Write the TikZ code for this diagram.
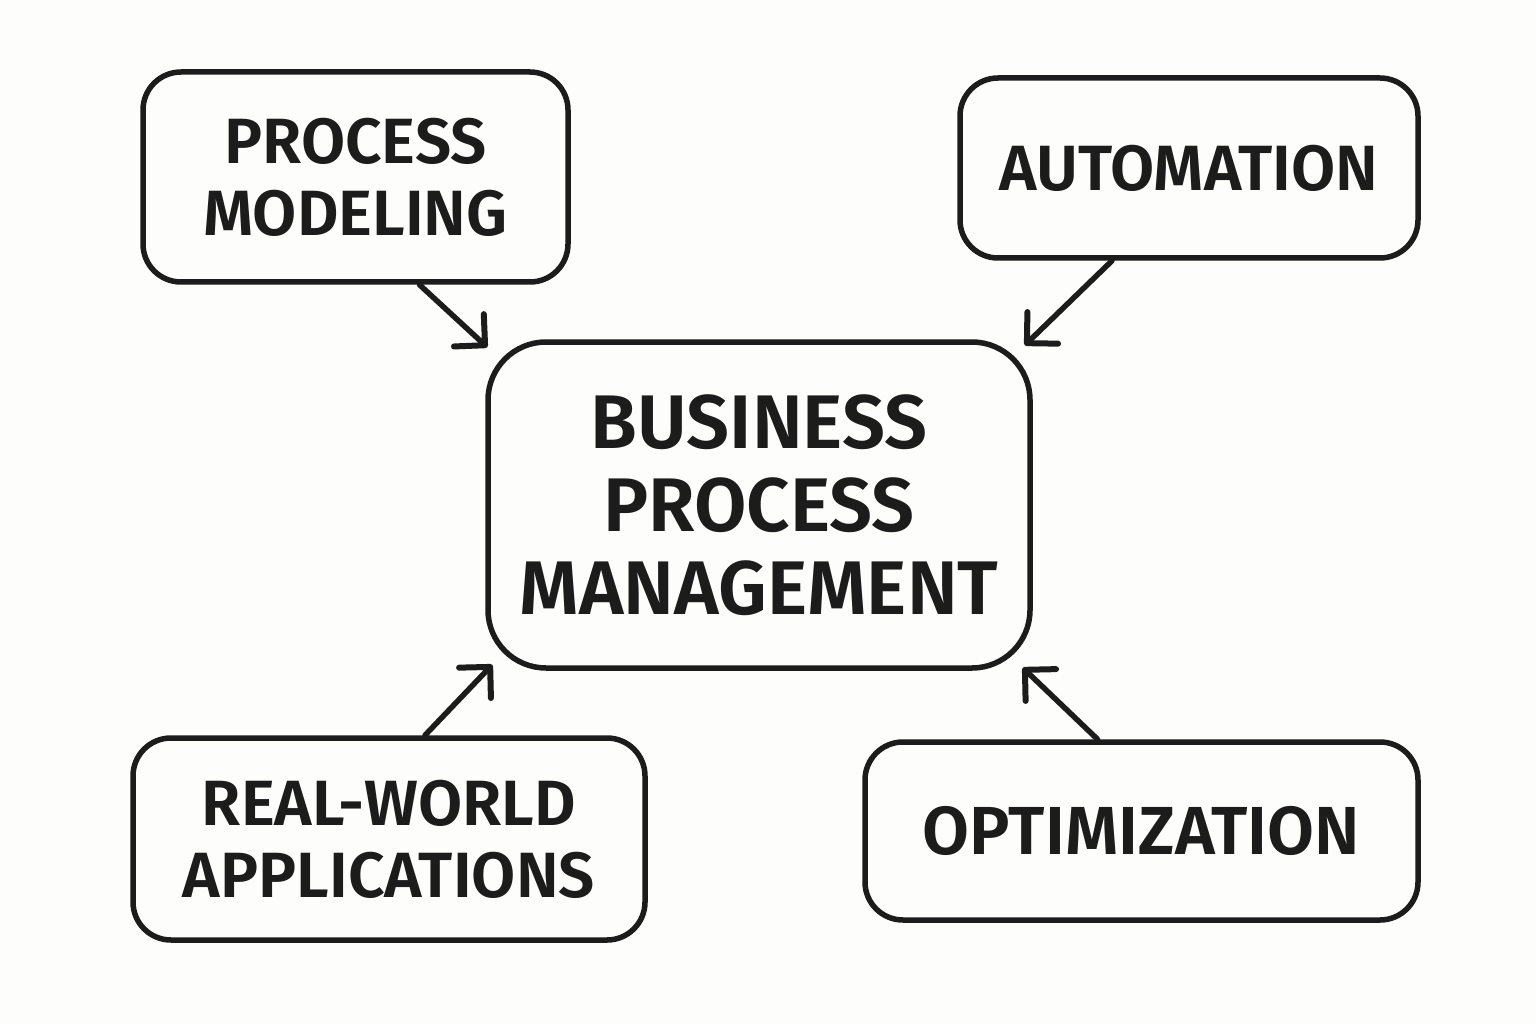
\documentclass[tikz,border=0pt]{standalone}
\usepackage{fontspec}
\setmainfont{Fira Sans}[BoldFont={Fira Sans SemiBold}]
\usetikzlibrary{arrows.meta,calc}
\definecolor{ink}{HTML}{1C1C1C}
\definecolor{paper}{HTML}{FDFDFB}
\begin{document}
\begin{tikzpicture}[x=1pt,y=-1pt,
  box/.style={draw=ink,line width=5.5pt,rounded corners=38pt,fill=paper,inner sep=0pt},
  lbl/.style={text=ink,align=center,font=\fontsize{64}{72}\selectfont\bfseries},
  arr/.style={draw=ink,line width=5.5pt,line cap=round,-{Straight Barb[length=22pt,width=44pt,line width=6pt,round]}}]
\useasboundingbox[fill=paper] (0,0) rectangle (1536,1024);
\node[box,minimum width=425pt,minimum height=210pt] (pm) at (355.5,177) {};
\node[box,minimum width=458pt,minimum height=180pt] (au) at (1189,168) {};
\node[box,rounded corners=58pt,minimum width=542pt,minimum height=326pt] (bpm) at (759,505) {};
\node[box,minimum width=512pt,minimum height=202pt] (rw) at (389,839) {};
\node[box,minimum width=553pt,minimum height=178pt] (op) at (1141.5,831) {};
\node[lbl] at (pm) {PROCESS\\MODELING};
\node[lbl] at (au) {AUTOMATION};
\node[lbl,font=\fontsize{76}{83}\selectfont\bfseries] at (bpm) {BUSINESS\\PROCESS\\MANAGEMENT};
\node[lbl] at (rw) {REAL-WORLD\\APPLICATIONS};
\node[lbl,font=\fontsize{68}{72}\selectfont\bfseries] at (op) {OPTIMIZATION};
\draw[arr] ([xshift=64pt]pm.south) -- ([xshift=2pt,yshift=-8pt]bpm.north west);
\draw[arr] ([xshift=-77pt]au.south) -- ([xshift=-8pt,yshift=-6pt]bpm.north east);
\draw[arr] ([xshift=36pt]rw.north) -- ([xshift=7pt,yshift=6pt]bpm.south west);
\draw[arr] ([xshift=-44pt]op.north) -- ([xshift=-10pt,yshift=3pt]bpm.south east);
\end{tikzpicture}
\end{document}
